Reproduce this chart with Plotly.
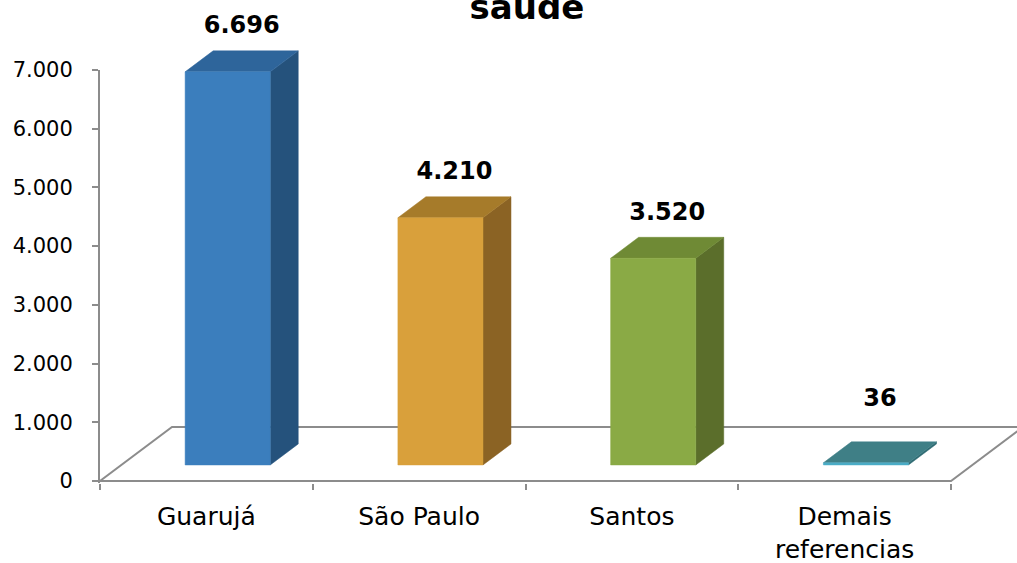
import plotly.graph_objects as go

# ---- data ----
CATEGORIES = ["Guarujá", "São Paulo", "Santos", "Demais<br>referencias"]
VALUES = [6696, 4210, 3520, 36]
Y_TICKS = [0, 1000, 2000, 3000, 4000, 5000, 6000, 7000]
Y_MAX = 7000
TITLE = "saúde"

# ---- style ----
FRONT = ["#3B7EBD", "#D9A03B", "#8AAA45", "#4BACC6"]
SIDE = ["#25527C", "#8B6324", "#5B6E2B", "#2F6B73"]
TOP = ["#2E659B", "#A67B2A", "#6F8A35", "#3F7F86"]
GRAY = "#8C8C8C"

# oblique 3D projection (in data units)
FLOOR_DX, FLOOR_DY = 0.3384, 920.0
F_FRONT, F_BACK = 0.296, 0.685
OX1, OY1 = FLOOR_DX * F_FRONT, FLOOR_DY * F_FRONT
OX2, OY2 = FLOOR_DX * F_BACK, FLOOR_DY * F_BACK
BAR_HALF = 0.2
LABEL_GAP = 1030
LABEL_MIN = 1380

W, H = 1017, 563
L_MARGIN, B_MARGIN, T_MARGIN = 100, 80, 0
PX_PER_X = 212.75
PX_PER_Y = 0.058707
Y_LO = -35
plot_h = H - B_MARGIN - T_MARGIN
y_full_max = Y_LO + plot_h / PX_PER_Y
axis_frac = (Y_MAX - Y_LO) * PX_PER_Y / plot_h
x_max = -0.5 + (W - L_MARGIN) / PX_PER_X

n = len(CATEGORIES)
fig = go.Figure()

# floor outline
x_lo, x_hi = -0.5, n - 0.5
fig.add_trace(go.Scatter(
    x=[x_lo, x_hi, x_hi + FLOOR_DX, x_lo + FLOOR_DX, x_lo],
    y=[0, 0, FLOOR_DY, FLOOR_DY, 0], yaxis="y2",
    mode="lines", line=dict(color=GRAY, width=2), hoverinfo="skip", showlegend=False))

def face(xs, ys, color):
    fig.add_trace(go.Scatter(
        x=xs + [xs[0]], y=ys + [ys[0]], yaxis="y2", mode="lines", fill="toself",
        fillcolor=color, line=dict(color=color, width=0.5),
        hoverinfo="skip", showlegend=False))

DX, DY = OX2 - OX1, OY2 - OY1
for i, v in enumerate(VALUES):
    x0, x1 = i - BAR_HALF + OX1, i + BAR_HALF + OX1
    yb, yt = OY1, OY1 + v
    face([x1, x1 + DX, x1 + DX, x1], [yb, yb + DY, yt + DY, yt], SIDE[i])
    face([x0, x1, x1 + DX, x0 + DX], [yt, yt, yt + DY, yt + DY], TOP[i])
    face([x0, x1, x1, x0], [yb, yb, yt, yt], FRONT[i])

labels = ["<b>" + f"{v:,}".replace(",", ".") + "</b>" for v in VALUES]
fig.add_trace(go.Scatter(
    x=[i + (OX1 + OX2) / 2 for i in range(n)],
    y=[max(v + LABEL_GAP, LABEL_MIN) for v in VALUES], yaxis="y2",
    mode="text", text=labels, textposition="middle center",
    textfont=dict(family="DejaVu Sans", size=24, color="black"),
    cliponaxis=False, hoverinfo="skip", showlegend=False))

# empty trace so the visible value axis subplot exists
fig.add_trace(go.Scatter(x=[], y=[], yaxis="y", showlegend=False, hoverinfo="skip"))

fig.update_layout(
    width=W, height=H,
    margin=dict(l=L_MARGIN, r=0, t=T_MARGIN, b=B_MARGIN),
    paper_bgcolor="white", plot_bgcolor="rgba(0,0,0,0)",
    separators=",.",
    title=dict(text="<b>" + TITLE + "</b>", x=527 / W, xanchor="center",
               xref="container", yref="container", y=1 - 19 / H, yanchor="bottom",
               font=dict(family="DejaVu Sans", size=34, color="black")),
    xaxis=dict(range=[-0.5, x_max], tickmode="array", tickvals=list(range(n)),
               ticktext=CATEGORIES, ticks="", showline=False, showgrid=False,
               zeroline=False, ticklabelstandoff=16, automargin=False, anchor="y2",
               tickfont=dict(family="DejaVu Sans", size=25, color="black"),
               minor=dict(tickmode="array", tickvals=[k - 0.5 for k in range(n + 1)],
                          ticks="outside", ticklen=6, tickcolor=GRAY, tickwidth=2,
                          showgrid=False)),
    yaxis=dict(domain=[0, axis_frac], range=[Y_LO, Y_MAX], anchor="x",
               tickmode="array", tickvals=Y_TICKS, tickformat=",d",
               ticks="outside", ticklen=6, tickcolor=GRAY, tickwidth=2,
               showline=True, linecolor=GRAY, linewidth=2, showgrid=False,
               zeroline=False, ticklabelstandoff=15, automargin=False,
               tickfont=dict(family="DejaVu Sans", size=21, color="black")),
    yaxis2=dict(domain=[0, 1], range=[Y_LO, y_full_max], anchor="x", visible=False,
                showgrid=False, zeroline=False, automargin=False),
)

fig.write_html("out.html", config={"displayModeBar": False},
               post_script="document.body.style.margin='0';")
